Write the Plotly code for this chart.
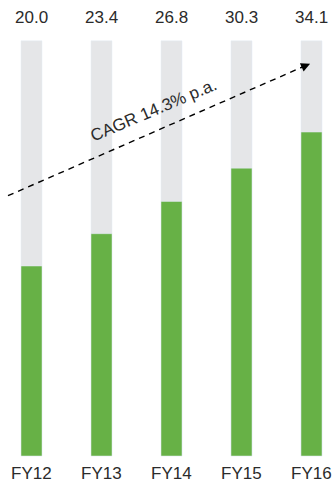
import plotly.graph_objects as go

years = ["FY12", "FY13", "FY14", "FY15", "FY16"]
values = [20.0, 23.4, 26.8, 30.3, 34.1]
track_total = 43.7
cagr_label = "CAGR 14.3% p.a."

GREEN = "#67b146"
GREY = "#e5e6e8"
TEXT = "#2b2b2b"
FONT = "Liberation Sans"

xs = list(range(len(years)))

fig = go.Figure()
fig.add_bar(x=xs, y=[track_total] * len(xs), marker_color=GREY, width=0.3,
            hoverinfo="skip", showlegend=False)
fig.add_bar(x=xs, y=values, marker_color=GREEN, width=0.3, showlegend=False)

# value labels above the bars, year labels pinned to the bottom edge
for x, v, yr in zip(xs, values, years):
    fig.add_annotation(x=x, y=46.2, text=f"{v:.1f}", showarrow=False,
                       font=dict(family=FONT, size=17, color=TEXT))
    fig.add_annotation(x=x, y=-2.94, yanchor="bottom", borderpad=0, text=yr,
                       showarrow=False, font=dict(family=FONT, size=17, color=TEXT))

# dashed growth arrow
x0, y0 = -0.336, 27.4
x1, y1 = 3.98, 41.3
fig.add_shape(type="line", x0=x0, y0=y0, x1=x1 - 0.08, y1=y1 - 0.26,
              line=dict(color="black", width=1.4, dash="6px,5px"))
fig.add_annotation(x=x1, y=y1, ax=x1 - 0.16, ay=y1 - 0.52, axref="x", ayref="y",
                   text="", showarrow=True, arrowhead=2, arrowsize=1.3,
                   arrowwidth=1.4, arrowcolor="black")
fig.add_annotation(x=1.736, y=36.4, text=cagr_label, showarrow=False, textangle=-23,
                   font=dict(family=FONT, size=17, color=TEXT))

fig.update_layout(
    width=332, height=484, margin=dict(l=0, r=0, t=0, b=0),
    plot_bgcolor="white", paper_bgcolor="white", barmode="overlay",
    xaxis=dict(range=[-0.45, 4.293], visible=False, fixedrange=True),
    yaxis=dict(range=[-2.947, 48], visible=False, fixedrange=True),
)

fig.write_html("out.html")
